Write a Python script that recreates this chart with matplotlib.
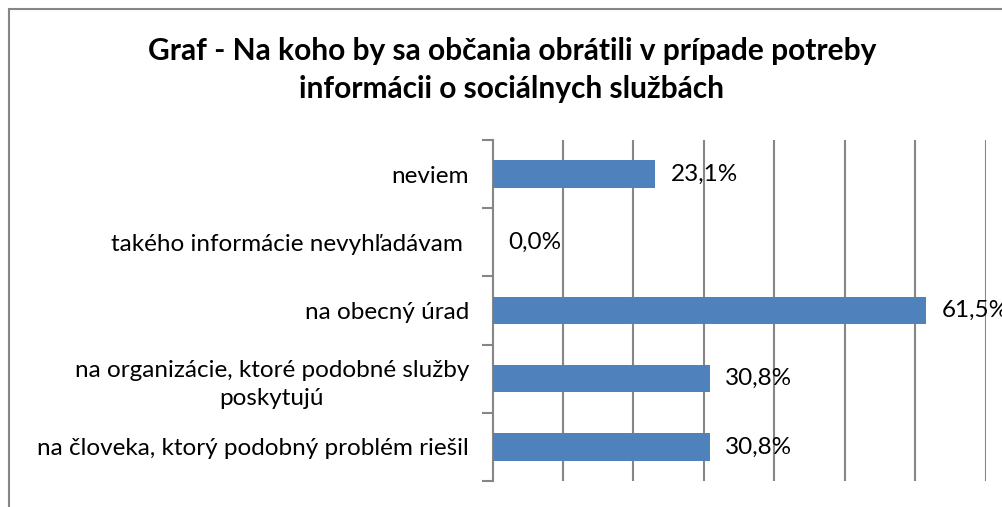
import matplotlib.pyplot as plt
from matplotlib.patches import Rectangle

categories = [
    "na človeka, ktorý podobný problém riešil",
    "na organizácie, ktoré podobné služby\nposkytujú",
    "na obecný úrad",
    "takého informácie nevyhľadávam ",
    "neviem",
]
values = [30.8, 30.8, 61.5, 0.0, 23.1]
value_labels = ["30,8%", "30,8%", "61,5%", "0,0%", "23,1%"]

plt.rcParams['font.family'] = ['Lato', 'DejaVu Sans']

fig = plt.figure(figsize=(10.02, 5.07), dpi=100)
grey = '#868686'

# chart frame (right/bottom edges run past the picture)
fig.patches.append(Rectangle((8.5 / 1002, -0.1), 1.2, 1 - 9 / 507 + 0.1,
                             transform=fig.transFigure, fill=False,
                             edgecolor=grey, linewidth=1.5))

ax = fig.add_axes([492.5 / 1002, 26 / 507, 493.3 / 1002, 341 / 507])
pos = list(range(len(categories)))
ax.barh(pos, values, height=0.4, color='#4F81BD', zorder=3)
ax.set_xlim(0, 70)
ax.set_ylim(-0.5, len(categories) - 0.5)

ax.set_xticks([10, 20, 30, 40, 50, 60, 70])
ax.xaxis.grid(True, color=grey, linewidth=1.5)
ax.tick_params(axis='x', length=0, labelbottom=False)

ax.set_yticks(pos)
ax.set_yticklabels(categories, fontsize=17.5)
for lab in ax.get_yticklabels():
    lab.set_multialignment('center')
    lab.set_linespacing(1.45)
ax.set_yticks([p - 0.5 for p in pos] + [len(pos) - 0.5], minor=True)
ax.tick_params(axis='y', which='major', length=0, pad=17)
ax.tick_params(axis='y', which='minor', length=8, width=1.5, color=grey)

for s in ['top', 'right', 'bottom']:
    ax.spines[s].set_visible(False)
ax.spines['left'].set_color(grey)
ax.spines['left'].set_linewidth(1.5)
ax.set_axisbelow(True)

for p, v, t in zip(pos, values, value_labels):
    ax.text(v + 2.2, p, t, va='center', ha='left', fontsize=17.5, clip_on=False)

fig.text(512 / 1002, 1 - 70 / 507,
         "Graf - Na koho by sa občania obrátili v prípade potreby\ninformácii o sociálnych službách",
         ha='center', va='center', fontsize=21.5, fontweight='bold', linespacing=1.4)

fig.savefig('out.png', dpi=100)
